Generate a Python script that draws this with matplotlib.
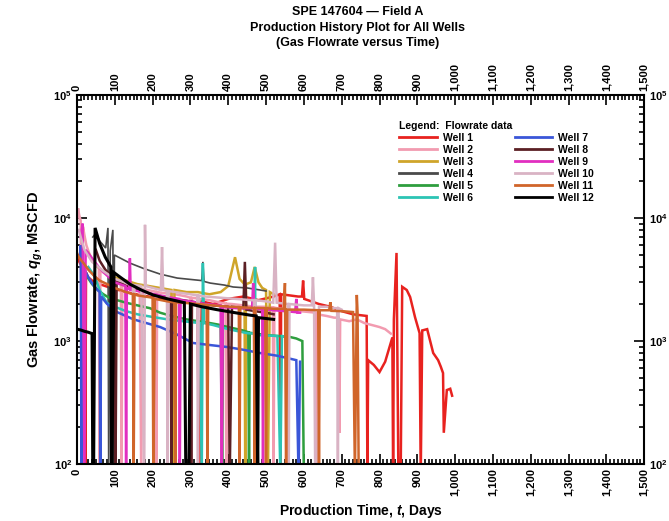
import matplotlib
matplotlib.use("Agg")
import matplotlib.pyplot as plt
import numpy as np
from matplotlib.lines import Line2D
from matplotlib.ticker import MultipleLocator, FuncFormatter, LogLocator

# Дані (дні, дебіт газу MSCFD); 80 = зупинка свердловини (нижче межі осі)
well1_days = [0, 8, 15, 20, 22, 24, 30, 40, 60, 90,
              130, 170, 210, 250, 290, 318, 324, 330, 360, 400,
              440, 480, 520, 536, 538, 540, 585, 595, 598, 601,
              640, 670, 700, 730, 766, 768, 770, 785, 800, 815,
              834, 836, 838, 845, 850, 856, 860, 872, 881, 894,
              906, 909, 913, 926, 942, 955, 962, 968, 970, 978,
              987, 992]
well1_rate = [4800, 4300, 3900, 3700, 80, 3600, 3300, 3100, 2900, 2700,
              2500, 2350, 2250, 2150, 2100, 2050, 80, 2100, 2000, 2200,
              2300, 2150, 2300, 2400, 80, 2400, 2300, 2300, 3100, 2200,
              2000, 1900, 1750, 1650, 1600, 80, 700, 640, 560, 680,
              1070, 80, 1500, 5200, 80, 80, 2760, 2600, 2280, 1560,
              1160, 80, 1220, 1250, 800, 700, 620, 550, 180, 400,
              410, 360]

well2_days = [0, 3, 6, 10, 14, 16, 20, 25, 32, 42,
              55, 58, 60, 62, 70, 90, 110, 116, 118, 120,
              130, 150, 166, 170, 174, 200, 208, 210, 212, 230,
              248, 250, 252, 260, 290, 300, 302, 304, 350, 380,
              393, 395, 397, 410, 440, 470, 500, 518, 520, 522,
              530, 560, 590, 632, 634, 636, 660, 680, 692, 694,
              696, 720, 740, 760, 780, 800, 815, 830]
well2_rate = [9000, 12000, 10500, 9500, 80, 8500, 7200, 6000, 5200, 4500,
              4000, 3900, 80, 3800, 3600, 3300, 3100, 3000, 80, 3000,
              2900, 2800, 2700, 80, 2650, 2550, 2520, 80, 2500, 2450,
              2420, 80, 2410, 2400, 2300, 2250, 80, 2250, 2150, 2050,
              2020, 80, 2010, 2000, 1950, 1900, 1900, 1880, 80, 1870,
              1850, 1800, 1750, 1700, 80, 1650, 1600, 1550, 1550, 180,
              1500, 1450, 1500, 1400, 1350, 1300, 1250, 1150]

well3_days = [30, 40, 55, 75, 100, 130, 160, 190, 220, 250,
              254, 258, 290, 320, 350, 380, 400, 418, 430, 443,
              445, 447, 460, 470, 480, 490, 500, 505, 510, 520]
well3_rate = [5200, 4600, 4000, 3600, 3300, 3100, 2900, 2800, 2700, 2600,
              80, 2600, 2500, 2500, 2400, 2500, 2800, 4800, 3200, 2900,
              80, 2900, 3000, 4000, 3000, 2700, 2600, 80, 2500, 2400]

well4_days = [42, 50, 60, 76, 82, 84, 88, 95, 97, 99,
              140, 175, 220, 265, 330, 333, 336, 352, 390, 413,
              450, 484, 500]
well4_rate = [7000, 7500, 6500, 5700, 8300, 80, 5400, 8000, 80, 5000,
              4300, 3900, 3500, 3250, 3100, 4400, 3050, 2960, 2850, 2750,
              2700, 2600, 2550]

well5_days = [15, 20, 28, 40, 55, 70, 85, 106, 130, 160,
              193, 220, 250, 290, 352, 380, 384, 386, 439, 453,
              455, 457, 470, 500, 530, 563, 580, 596, 600]
well5_rate = [4500, 3800, 3300, 2900, 2600, 2400, 2250, 2150, 2050, 1950,
              1850, 1700, 1600, 1500, 1400, 1350, 80, 1330, 1220, 1180,
              80, 1170, 1150, 1120, 1100, 1080, 1050, 1000, 80]

well6_days = [30, 40, 48, 60, 79, 100, 130, 160, 200, 240,
              280, 325, 330, 333, 336, 360, 400, 450, 468, 471,
              474, 476, 530, 538, 542, 555]
well6_rate = [4000, 3600, 3300, 2600, 2040, 1900, 1750, 1650, 1570, 1500,
              1450, 1400, 80, 4300, 1400, 1350, 1250, 1160, 1150, 4000,
              80, 1120, 1100, 80, 1100, 1080]

well7_days = [8, 10, 12, 14, 20, 30, 45, 60, 62, 64,
              80, 106, 150, 220, 260, 307, 350, 397, 440, 484,
              530, 563, 580, 586, 590]
well7_rate = [5000, 6000, 80, 4200, 3800, 3300, 2800, 2500, 80, 2300,
              2000, 1720, 1500, 1300, 1150, 965, 930, 895, 850, 800,
              760, 720, 700, 80, 680]

well8_days = [50, 60, 75, 100, 102, 105, 130, 160, 200, 240,
              248, 250, 252, 280, 300, 302, 304, 320, 360, 400,
              404, 410, 440, 444, 448, 470, 500, 520]
well8_rate = [5500, 4500, 3800, 3200, 80, 3100, 2800, 2600, 2400, 2250,
              2230, 80, 2220, 2150, 2100, 80, 2090, 2050, 1950, 1900,
              80, 1900, 1850, 4400, 1800, 1750, 1700, 1650]

well9_days = [10, 15, 20, 23, 45, 60, 80, 100, 128, 130,
              132, 138, 140, 142, 160, 190, 220, 250, 270, 272,
              274, 300, 340, 380, 383, 386, 420, 463, 466, 469,
              490, 492, 494, 520, 550, 577, 580, 583, 590]
well9_rate = [7000, 9000, 80, 5500, 4500, 3900, 3400, 3000, 2800, 80,
              2700, 2650, 4700, 2600, 2550, 2450, 2350, 2250, 2200, 80,
              2150, 2100, 2000, 1950, 80, 1900, 1850, 1850, 2960, 1850,
              1800, 80, 1800, 1780, 1750, 1720, 2200, 1700, 1700]

well10_days = [5, 10, 20, 40, 70, 100, 140, 148, 150, 152,
               170, 178, 180, 182, 200, 222, 225, 228, 238, 240,
               242, 260, 300, 318, 320, 322, 340, 380, 420, 460,
               468, 470, 472, 500, 519, 524, 528, 558, 560, 562,
               600, 621, 624, 627, 630, 636, 640, 660, 680, 688,
               690, 692, 700]
well10_rate = [8000, 7000, 5500, 4400, 3700, 3200, 2900, 2850, 80, 2850,
               2800, 80, 8800, 2800, 2700, 2600, 5800, 2600, 2550, 80,
               2550, 2500, 2400, 2350, 80, 2350, 2300, 2250, 2200, 2150,
               2150, 80, 2150, 2100, 2050, 6300, 2050, 2000, 80, 2000,
               1950, 1950, 3300, 1950, 80, 80, 1900, 1900, 1850, 1850,
               80, 1850, 1800]

well11_days = [0, 5, 12, 20, 30, 45, 60, 80, 100, 130,
               148, 150, 152, 160, 200, 202, 206, 240, 258, 260,
               262, 280, 320, 343, 345, 347, 360, 405, 428, 430,
               432, 468, 470, 472, 498, 500, 502, 520, 547, 550,
               553, 556, 600, 638, 640, 642, 667, 670, 673, 700,
               730, 735, 740, 742, 745]
well11_rate = [5200, 4800, 4500, 4200, 3800, 3400, 3100, 2900, 2700, 2500,
               2400, 80, 2400, 2350, 2250, 80, 2200, 2100, 2060, 80,
               2060, 2050, 2000, 1970, 80, 1960, 1950, 1900, 1890, 80,
               1880, 1860, 80, 1860, 1850, 80, 1850, 1830, 1830, 2960,
               80, 1800, 1800, 1780, 80, 1780, 1780, 2070, 1760, 1750,
               1720, 80, 2370, 1700, 80]

well12_days = [0, 10, 20, 30, 40, 42, 44, 48, 60, 75,
               90, 92, 98, 114, 140, 170, 201, 240, 284, 288,
               296, 300, 330, 370, 423, 460, 474, 478, 480, 520]
well12_rate = [1250, 1230, 1200, 1180, 1150, 80, 80, 8300, 6200, 4800,
               4000, 80, 3600, 3310, 2900, 2600, 2370, 2200, 2050, 80,
               80, 2000, 1900, 1800, 1690, 1620, 1600, 80, 1550, 1500]

well_names = [f"Well {i}" for i in range(1, 13)]
well_colors = ["#e8221f", "#f29bb0", "#cfa52a", "#4a4a4a", "#2e9e3e", "#2cc4b4",
               "#3a56d8", "#5b1f24", "#e12fc0", "#d9b3c4", "#d0652a", "#000000"]
well_widths = [1.8, 1.8, 1.8, 1.2, 1.8, 1.8, 1.8, 1.8, 1.8, 1.8, 1.8, 2.2]

all_days = [well1_days, well2_days, well3_days, well4_days, well5_days, well6_days,
            well7_days, well8_days, well9_days, well10_days, well11_days, well12_days]
all_rates = [well1_rate, well2_rate, well3_rate, well4_rate, well5_rate, well6_rate,
             well7_rate, well8_rate, well9_rate, well10_rate, well11_rate, well12_rate]

plt.rcParams["font.family"] = ["Liberation Sans", "DejaVu Sans"]
plt.rcParams["font.weight"] = "bold"
plt.rcParams["mathtext.fontset"] = "custom"
plt.rcParams["mathtext.rm"] = "Liberation Sans:bold"
plt.rcParams["mathtext.bf"] = "Liberation Sans:bold"
plt.rcParams["mathtext.it"] = "Liberation Sans:bold:italic"

fig = plt.figure(figsize=(6.69, 5.21), dpi=100)
ax = fig.add_axes([0.115, 0.109, 0.848, 0.709])

for d, r, c, w in zip(all_days, all_rates, well_colors, well_widths):
    ax.plot(d, r, color=c, lw=w, solid_joinstyle="miter")

ax.set_yscale("log")
ax.set_xlim(0, 1500)
ax.set_ylim(100, 1e5)

ax.xaxis.set_major_locator(MultipleLocator(100))
ax.xaxis.set_minor_locator(MultipleLocator(10))
ax.xaxis.set_major_formatter(FuncFormatter(lambda v, p: f"{int(v):,}"))
ax.yaxis.set_major_locator(LogLocator(base=10))
ax.yaxis.set_minor_locator(LogLocator(base=10, subs=np.arange(2, 10)))
ax.yaxis.set_major_formatter(
    FuncFormatter(lambda v, p: r"$\mathbf{10^{%d}}$" % int(round(np.log10(v)))))

ax.tick_params(which="both", direction="in", top=True, right=True,
               labeltop=True, labelright=True, width=1.2)
ax.tick_params(which="major", length=7, labelsize=8)
ax.tick_params(which="minor", length=3.5)
ax.tick_params(axis="x", labelrotation=90, pad=3)
for s in ax.spines.values():
    s.set_linewidth(1.5)

ax.set_xlabel("Production Time, $t$, Days", fontsize=10, fontweight="bold", labelpad=4)
ax.set_ylabel("Gas Flowrate, $q_g$, MSCFD", fontsize=10.5, fontweight="bold", labelpad=6)

fig.text(0.535, 0.988, "SPE 147604 \u2014 Field A\nProduction History Plot for All Wells\n(Gas Flowrate versus Time)",
         ha="center", va="top", fontsize=9, fontweight="bold", linespacing=1.4)

handles = [Line2D([], [], color=c, lw=2) for c in well_colors]
leg = ax.legend(handles, well_names, ncol=2, loc="upper left",
                bbox_to_anchor=(0.555, 0.95), frameon=False,
                title="Legend:  Flowrate data", alignment="left",
                prop={"size": 7.5, "weight": "bold"}, title_fontproperties={"size": 7.5, "weight": "bold"},
                handlelength=3.6, labelspacing=0.2, columnspacing=4.0, handletextpad=0.6,
                borderpad=0.2)

fig.savefig("out.png", dpi=100)
